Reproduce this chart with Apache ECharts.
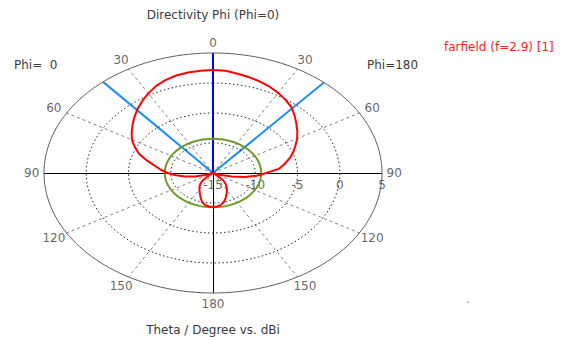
<!DOCTYPE html>
<html>
<head>
<meta charset="utf-8">
<script src="https://cdn.jsdelivr.net/npm/echarts@6/dist/echarts.min.js"></script>
<style>
  html, body { margin: 0; padding: 0; background: #fff; }
  #chart { width: 578px; height: 340px; }
</style>
</head>
<body>
<div id="chart"></div>
<script>
// Farfield directivity cut, theta sampled every 5 degrees (dBi)
const theta = [0, 5, 10, 15, 20, 25, 30, 35, 40, 45, 50, 55, 60, 65, 70, 75, 80, 85, 90,
               95, 100, 105, 110, 115, 120, 125, 130, 135, 140, 145, 150, 155, 160, 165, 170, 175, 180];
// Phi = 0 half-plane (drawn on the left)
const dirPhi0 = [2.17, 2.12, 2.02, 1.82, 1.48, 0.98, 0.32, -0.38, -1.1, -1.84, -2.57, -3.25, -3.92,
                 -4.8, -5.7, -6.9, -8.0, -8.8, -9.6, -10.6, -11.6, -12.8, -14.0, -15.5, -17.0, -15.8,
                 -14.5, -13.3, -12.7, -12.2, -11.8, -11.3, -10.7, -10.0, -9.6, -9.4, -9.33];
// Phi = 180 half-plane (drawn on the right)
const dirPhi180 = [2.17, 2.1, 1.8, 1.53, 1.22, 0.87, 0.42, -0.07, -0.61, -1.36, -2.13, -2.82, -3.5,
                   -4.24, -4.9, -5.62, -6.4, -7.2, -8.7, -9.8, -11.2, -12.7, -14.2, -15.5, -17.0, -15.8,
                   -14.5, -13.3, -12.7, -12.2, -11.7, -11.2, -10.6, -10.0, -9.6, -9.4, -9.33];

// Radial scale (dBi) and angle tick labels (degrees)
const radialTicks = [-15, -10, -5, 0, 5];
const angleTicks = [0, 30, 60, 90, 120, 150, 180];

// Main lobe direction, 3 dB beam edges and side lobe level
const mainLobeTheta = 0;
const beamEdgePhi0 = 40.6;
const beamEdgePhi180 = 41;
const sideLobeLevel = -9.3;

const rMin = radialTicks[0];
const rMax = radialTicks[radialTicks.length - 1];
const rSpan = rMax - rMin;
const deg = Math.PI / 180;

// polar (theta, dB) -> plane; side = -1 for phi=0 (left), +1 for phi=180 (right)
function toXY(t, db, side) {
  const r = Math.max(db - rMin, 0);
  return [side * r * Math.sin(t * deg), r * Math.cos(t * deg)];
}
function ring(db) {
  const pts = [];
  for (let a = 0; a <= 360; a += 2) {
    const r = db - rMin;
    pts.push([r * Math.sin(a * deg), r * Math.cos(a * deg)]);
  }
  return pts;
}

// Red pattern: phi=0 from 180 up to 0, then phi=180 from 0 down to 180
const curve = [];
for (let i = theta.length - 1; i >= 0; i--) curve.push(toXY(theta[i], dirPhi0[i], -1));
for (let i = 0; i < theta.length; i++) curve.push(toXY(theta[i], dirPhi180[i], 1));

// Dashed spokes at the inner angle ticks on both sides
const spokes = [];
angleTicks.filter(a => a > 0 && a < 180 && a !== 90).forEach(a => {
  [-1, 1].forEach(s => spokes.push({ coords: [[0, 0], toXY(a, rMax, s)] }));
});

// Angle labels around the outside
const labelR = rMax + 1.75;
const angleLabels = [];
angleTicks.forEach(a => {
  if (a === 0 || a === 180) {
    angleLabels.push({ value: toXY(a, labelR, 1), name: String(a) });
  } else {
    angleLabels.push({ value: toXY(a, labelR - (a === 90 ? 0.3 : 0), -1), name: String(a) });
    angleLabels.push({ value: toXY(a, labelR - (a === 90 ? 0.3 : 0), 1), name: String(a) });
  }
});
const radialLabels = radialTicks.map(v => ({ value: [v - rMin, 0], name: String(v) }));

const font = 'DejaVu Sans';
const textColor = '#3c3c3c';

const series = [];
// dotted rings at inner radial ticks
radialTicks.slice(1, -1).forEach(v => {
  series.push({
    type: 'line', data: ring(v), showSymbol: false, silent: true, clip: false,
    lineStyle: { color: '#222', width: 1, type: [1.5, 2.5] }
  });
});
// spokes
series.push({
  type: 'lines', coordinateSystem: 'cartesian2d', data: spokes, silent: true,
  lineStyle: { color: '#808080', width: 1, type: [3, 3], opacity: 1 }
});
// outer boundary
series.push({
  type: 'line', data: ring(rMax), showSymbol: false, silent: true, clip: false,
  lineStyle: { color: '#606060', width: 1 }
});
// axis lines (90-90 horizontal, 0-180 vertical)
series.push({
  type: 'lines', coordinateSystem: 'cartesian2d', silent: true,
  data: [
    { coords: [toXY(90, rMax, -1), toXY(90, rMax, 1)] },
    { coords: [[0, 0], toXY(180, rMax, 1)] }
  ],
  lineStyle: { color: '#000', width: 1, opacity: 1 }
});
// side lobe level ring
series.push({
  type: 'line', data: ring(sideLobeLevel), showSymbol: false, silent: true, clip: false,
  lineStyle: { color: '#6f9a2a', width: 2 }
});
// beam direction markers
series.push({
  type: 'lines', coordinateSystem: 'cartesian2d', silent: true,
  data: [
    { coords: [[0, 0], toXY(beamEdgePhi0, rMax, -1)] },
    { coords: [[0, 0], toXY(beamEdgePhi180, rMax, 1)] }
  ],
  lineStyle: { color: '#1e8cff', width: 2, opacity: 1 }
});
series.push({
  type: 'lines', coordinateSystem: 'cartesian2d', silent: true,
  data: [{ coords: [[0, 0], toXY(mainLobeTheta, rMax, 1)] }],
  lineStyle: { color: '#0000ff', width: 2, opacity: 1 }
});
// directivity pattern
series.push({
  type: 'line', data: curve, showSymbol: false, silent: true, clip: false,
  lineStyle: { color: '#ff0000', width: 2 }
});
// labels
series.push({
  type: 'scatter', data: angleLabels, symbolSize: 0, silent: true, clip: false,
  label: { show: true, position: 'inside', formatter: '{b}', color: textColor, fontFamily: font, fontSize: 12 }
});
series.push({
  type: 'scatter', data: radialLabels, symbolSize: 0, silent: true, clip: false,
  label: { show: true, position: 'inside', offset: [0, 12], formatter: '{b}', color: textColor, fontFamily: font, fontSize: 12 }
});

const chart = echarts.init(document.getElementById('chart'), null, { renderer: 'svg' });
chart.setOption({
  animation: false,
  backgroundColor: '#ffffff',
  grid: { left: 44, top: 53, width: 338, height: 240 },
  xAxis: { type: 'value', min: -(rSpan), max: rSpan, show: false },
  yAxis: { type: 'value', min: -(rSpan), max: rSpan, show: false },
  series: series,
  graphic: [
    { type: 'text', left: 'auto', x: 213, y: 15, style: { text: 'Directivity Phi (Phi=0)', fill: textColor, font: '12px "' + font + '"', align: 'center', verticalAlign: 'middle' } },
    { type: 'text', x: 14, y: 65, style: { text: 'Phi=  0', fill: textColor, font: '12px "' + font + '"', align: 'left', verticalAlign: 'middle' } },
    { type: 'text', x: 367, y: 65, style: { text: 'Phi=180', fill: textColor, font: '12px "' + font + '"', align: 'left', verticalAlign: 'middle' } },
    { type: 'text', x: 444, y: 47, style: { text: 'farfield (f=2.9) [1]', fill: '#ff2020', font: '12px "' + font + '"', align: 'left', verticalAlign: 'middle' } },
    { type: 'text', x: 213, y: 330, style: { text: 'Theta / Degree vs. dBi', fill: textColor, font: '12px "' + font + '"', align: 'center', verticalAlign: 'middle' } },
    { type: 'circle', shape: { cx: 468, cy: 302, r: 0.7 }, style: { fill: '#666' } }
  ]
});
</script>
</body>
</html>
